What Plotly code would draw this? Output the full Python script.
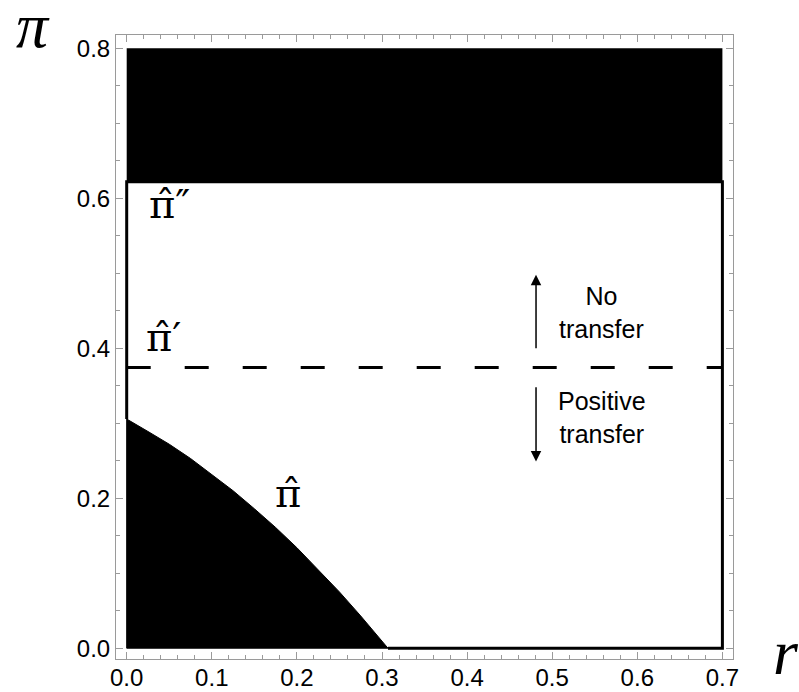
import plotly.graph_objects as go

# ---- data ----
r_max = 0.7
pi_max = 0.8
pi_double_prime = 0.622   # lower edge of the upper black region
pi_prime = 0.3744         # dashed threshold line
# boundary curve pi_hat(r)
r_curve = [0.0, 0.025, 0.05, 0.075, 0.1, 0.125, 0.15, 0.175, 0.2, 0.225, 0.25, 0.275, 0.3, 0.307]
pi_curve = [0.3056, 0.289, 0.272, 0.253, 0.232, 0.210, 0.186, 0.161, 0.134, 0.105, 0.075, 0.043, 0.010, 0.0]

x_ticks = [0.0, 0.1, 0.2, 0.3, 0.4, 0.5, 0.6, 0.7]
y_ticks = [0.0, 0.2, 0.4, 0.6, 0.8]

arrow_x = 0.481
up_arrow = [0.398, 0.498]     # tail, tip
down_arrow = [0.350, 0.249]   # tail, tip
text_x = 0.558

fig = go.Figure()

# upper black region
fig.add_trace(go.Scatter(
    x=[0, r_max, r_max, 0, 0],
    y=[pi_double_prime, pi_double_prime, pi_max, pi_max, pi_double_prime],
    fill="toself", fillcolor="black", mode="lines",
    line=dict(color="black", width=0), hoverinfo="skip", showlegend=False))

# lower-left black region under pi_hat
fig.add_trace(go.Scatter(
    x=[0] + r_curve + [0],
    y=[0] + pi_curve + [0],
    fill="toself", fillcolor="black", mode="lines",
    line=dict(color="black", width=1), hoverinfo="skip", showlegend=False))

# boundary of the white region
fig.add_trace(go.Scatter(
    x=[0, 0, r_max, r_max, r_curve[-1]],
    y=[pi_curve[0], pi_double_prime, pi_double_prime, 0, 0],
    mode="lines", line=dict(color="black", width=3),
    hoverinfo="skip", showlegend=False))

# dashed pi' line
fig.add_trace(go.Scatter(
    x=[0, r_max], y=[pi_prime, pi_prime],
    mode="lines", line=dict(color="black", width=3, dash="24px,34px"),
    hoverinfo="skip", showlegend=False))

annotations = []
# arrows
for tail, tip in [up_arrow, down_arrow]:
    annotations.append(dict(x=arrow_x, y=tip, ax=arrow_x, ay=tail,
                            xref="x", yref="y", axref="x", ayref="y", text="",
                            showarrow=True, arrowhead=2, arrowsize=1.4, arrowwidth=1.5,
                            arrowcolor="black"))

txt_font = dict(family="Liberation Sans", size=25, color="black")
annotations.append(dict(x=text_x, y=0.447, xref="x", yref="y", text="No<br>transfer",
                        showarrow=False, font=txt_font, align="center"))
annotations.append(dict(x=text_x, y=0.307, xref="x", yref="y", text="Positive<br>transfer",
                        showarrow=False, font=txt_font, align="center"))

math_font = dict(family="DejaVu Serif", size=40, color="black")
annotations.append(dict(x=0.050, y=0.592, xref="x", yref="y", text="π\u0302\u2033",
                        showarrow=False, font=math_font))
annotations.append(dict(x=0.043, y=0.415, xref="x", yref="y", text="π\u0302\u2032",
                        showarrow=False, font=math_font))
annotations.append(dict(x=0.189, y=0.207, xref="x", yref="y", text="π\u0302",
                        showarrow=False, font=math_font))

# axis labels
annotations.append(dict(x=-0.165, y=1.076, xref="paper", yref="paper",
                        text="<i>π</i>", showarrow=False,
                        font=dict(family="Liberation Serif", size=64, color="black")))
annotations.append(dict(x=1.111, y=-0.05, xref="paper", yref="paper",
                        text="<i>r</i>", showarrow=False,
                        font=dict(family="Liberation Serif", size=64, color="black")))

axis_common = dict(
    showline=True, mirror="ticks", linecolor="#9a9a9a", linewidth=1,
    ticks="inside", ticklen=7, tickcolor="#9a9a9a", tickwidth=1,
    showgrid=False, zeroline=False, automargin=False,
    tickfont=dict(family="Liberation Sans", size=24, color="black"),
)

fig.update_xaxes(range=[-0.01257, 0.71245], tickvals=x_ticks,
                 ticktext=[f"{v:.1f}" for v in x_ticks], ticklabelstandoff=-3,
                 minor=dict(ticks="inside", dtick=0.02, tick0=0, ticklen=4,
                            tickcolor="#9a9a9a", tickwidth=1),
                 **axis_common)
fig.update_yaxes(range=[-0.0144, 0.8177], tickvals=y_ticks,
                 ticktext=[f"{v:.1f}" for v in y_ticks],
                 minor=dict(ticks="inside", dtick=0.05, tick0=0, ticklen=4,
                            tickcolor="#9a9a9a", tickwidth=1),
                 **axis_common)

fig.update_layout(
    width=799, height=692,
    margin=dict(l=116, r=66, t=35, b=33),
    paper_bgcolor="white", plot_bgcolor="white",
    annotations=annotations,
    showlegend=False,
)

fig.write_html("out.html")
